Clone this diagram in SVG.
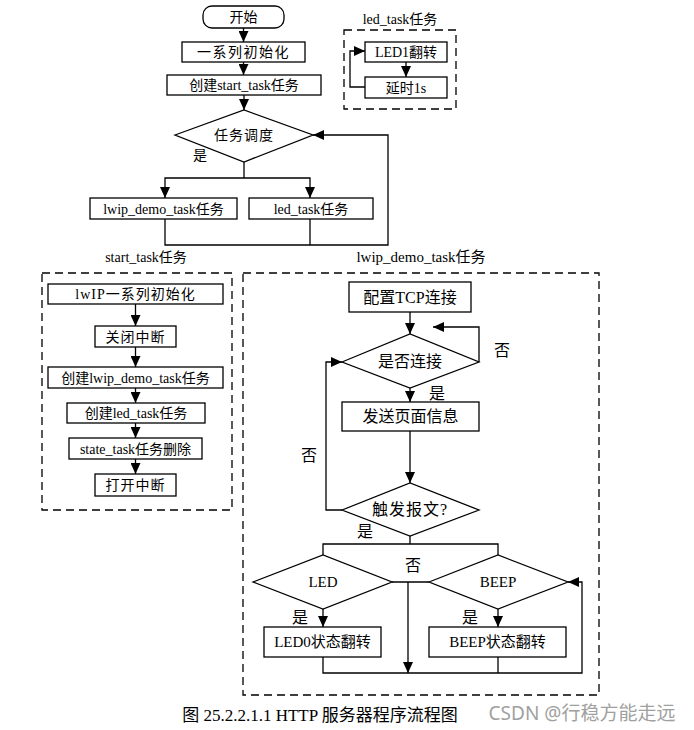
<svg xmlns="http://www.w3.org/2000/svg" width="694" height="730" viewBox="0 0 694 730">
<defs>
<marker id="ah" markerUnits="userSpaceOnUse" markerWidth="11" markerHeight="10" refX="11" refY="5" orient="auto"><path d="M0,0 L11,5 L0,10 z" fill="#000"/></marker>
<style>
.b{fill:#fff;stroke:#000;stroke-width:1.3}
.d{fill:none;stroke:#000;stroke-width:1.3;stroke-dasharray:8,5}
.c{fill:none;stroke:#000;stroke-width:1.3}
.a{marker-end:url(#ah)}
text{font-family:"Liberation Serif","Noto Sans CJK SC",serif;fill:#000;text-anchor:middle;dominant-baseline:central}
.s{font-size:14px}
.m{font-size:16px}
.l{font-size:15px}
</style>
</defs>
<rect width="694" height="730" fill="#fff"/>
<g id="frames">
<rect class="d" x="344" y="30" width="112" height="79"/>
<rect class="d" x="42" y="273" width="190" height="237"/>
<rect class="d" x="243" y="273" width="356" height="422"/>
<text class="s" x="400" y="19">led_task任务</text>
<text class="s" x="146" y="257">start_task任务</text>
<text class="l" x="421" y="257">lwip_demo_task任务</text>
</g>
<g id="start"><rect class="b" x="203" y="6" width="81" height="22" rx="9"/><text class="s" x="243.5" y="17">开始</text></g>
<g id="init"><rect class="b" x="182" y="42" width="123" height="20"/><text class="s" x="243.5" y="52" letter-spacing="1.5">一系列初始化</text></g>
<g id="create_start"><rect class="b" x="167" y="75" width="154" height="20"/><text class="s" x="244" y="85">创建start_task任务</text></g>
<g id="sched"><polygon class="b" points="175,135 244,110 313,135 244,162"/><text class="s" x="244" y="135" letter-spacing="1">任务调度</text></g>
<g id="lwip_task"><rect class="b" x="90" y="198" width="147" height="21"/><text class="s" x="163.5" y="209">lwip_demo_task任务</text></g>
<g id="led_task"><rect class="b" x="249" y="198" width="124" height="21"/><text class="s" x="311" y="209">led_task任务</text></g>
<g id="led1"><rect class="b" x="365" y="42" width="82" height="20"/><text class="s" x="406" y="52">LED1翻转</text></g>
<g id="delay"><rect class="b" x="365" y="77" width="82" height="21"/><text class="s" x="406" y="88">延时1s</text></g>
<g id="l1"><rect class="b" x="48" y="284" width="175" height="20"/><text class="s" x="135.5" y="294" letter-spacing="1">lwIP一系列初始化</text></g>
<g id="l2"><rect class="b" x="95" y="326" width="81" height="21"/><text class="s" x="135.5" y="337" letter-spacing="1">关闭中断</text></g>
<g id="l3"><rect class="b" x="48" y="367" width="175" height="21"/><text class="s" x="135.5" y="378">创建lwip_demo_task任务</text></g>
<g id="l4"><rect class="b" x="67" y="403" width="138" height="20"/><text class="s" x="136" y="413">创建led_task任务</text></g>
<g id="l5"><rect class="b" x="69" y="438" width="133" height="21"/><text class="s" x="135.5" y="449">state_task任务删除</text></g>
<g id="l6"><rect class="b" x="95" y="474" width="81" height="22"/><text class="s" x="135.5" y="485" letter-spacing="1">打开中断</text></g>
<g id="tcp"><rect class="b" x="349" y="282" width="122" height="30"/><text class="m" x="410" y="297">配置TCP连接</text></g>
<g id="conn"><polygon class="b" points="342,362 410,334 479,362 410,388"/><text class="m" x="410" y="361">是否连接</text></g>
<g id="send"><rect class="b" x="342" y="402" width="137" height="29"/><text class="m" x="410.5" y="416">发送页面信息</text></g>
<g id="msg"><polygon class="b" points="342,510 410,483 479,510 410,536"/><text class="m" x="410" y="509" letter-spacing="1">触发报文?</text></g>
<g id="led_d"><polygon class="b" points="253,582 323,555 392,582 323,609"/><text class="l" x="323" y="582">LED</text></g>
<g id="beep_d"><polygon class="b" points="429,582 498,555 568,582 498,609"/><text class="l" x="498" y="582">BEEP</text></g>
<g id="led0"><rect class="b" x="264" y="627" width="117" height="30"/><text class="l" x="322.5" y="642">LED0状态翻转</text></g>
<g id="beep"><rect class="b" x="429" y="627" width="137" height="30"/><text class="l" x="497.5" y="642">BEEP状态翻转</text></g>
<g id="connectors">
<path class="c a" d="M243.5,28 V42"/>
<path class="c a" d="M243.5,62 V75"/>
<path class="c a" d="M244,95 V110"/>
<path class="c" d="M244,162 V178"/>
<path class="c a" d="M244,178 H165 V198"/>
<path class="c a" d="M244,178 H310 V198"/>
<path class="c a" d="M165,219 V245 H388 V135 H313"/>
<path class="c" d="M310,219 V245"/>
<path class="c a" d="M406,62 V77"/>
<path class="c a" d="M365,87 H350 V51 H365"/>
<path class="c a" d="M135.5,304 V326"/>
<path class="c a" d="M135.5,347 V367"/>
<path class="c a" d="M135.5,388 V403"/>
<path class="c a" d="M135.5,423 V438"/>
<path class="c a" d="M135.5,459 V474"/>
<path class="c a" d="M410,312 V334"/>
<path class="c a" d="M479,362 V327 H433"/>
<path class="c a" d="M410,388 V402"/>
<path class="c a" d="M410,431 V483"/>
<path class="c a" d="M342,510 H326 V362 H342"/>
<path class="c" d="M410,536 V544 M323,555 V544 H498 V555"/>
<path class="c" d="M392,582 H429"/>
<path class="c a" d="M408,582 V673"/>
<path class="c a" d="M323,609 V627"/>
<path class="c a" d="M498,609 V627"/>
<path class="c a" d="M323,657 V673 H582 V582 H568"/>
<path class="c" d="M498,657 V673"/>
</g>
<g id="labels">
<text class="s" x="200" y="155">是</text>
<text class="m" x="502" y="350">否</text>
<text class="m" x="437" y="393">是</text>
<text class="m" x="309" y="455">否</text>
<text class="m" x="365" y="531">是</text>
<text class="m" x="413" y="565">否</text>
<text class="m" x="300" y="617">是</text>
<text class="m" x="470" y="617">是</text>
</g>
<g id="caption">
<text x="320" y="715" style="font-size:17px">图 25.2.2.1.1 HTTP 服务器程序流程图</text>
<text x="582" y="713" style="font-family:'Noto Sans','Noto Sans CJK SC',sans-serif;font-size:19px;fill:#a0a0a0">CSDN @行稳方能走远</text>
</g>
</svg>
